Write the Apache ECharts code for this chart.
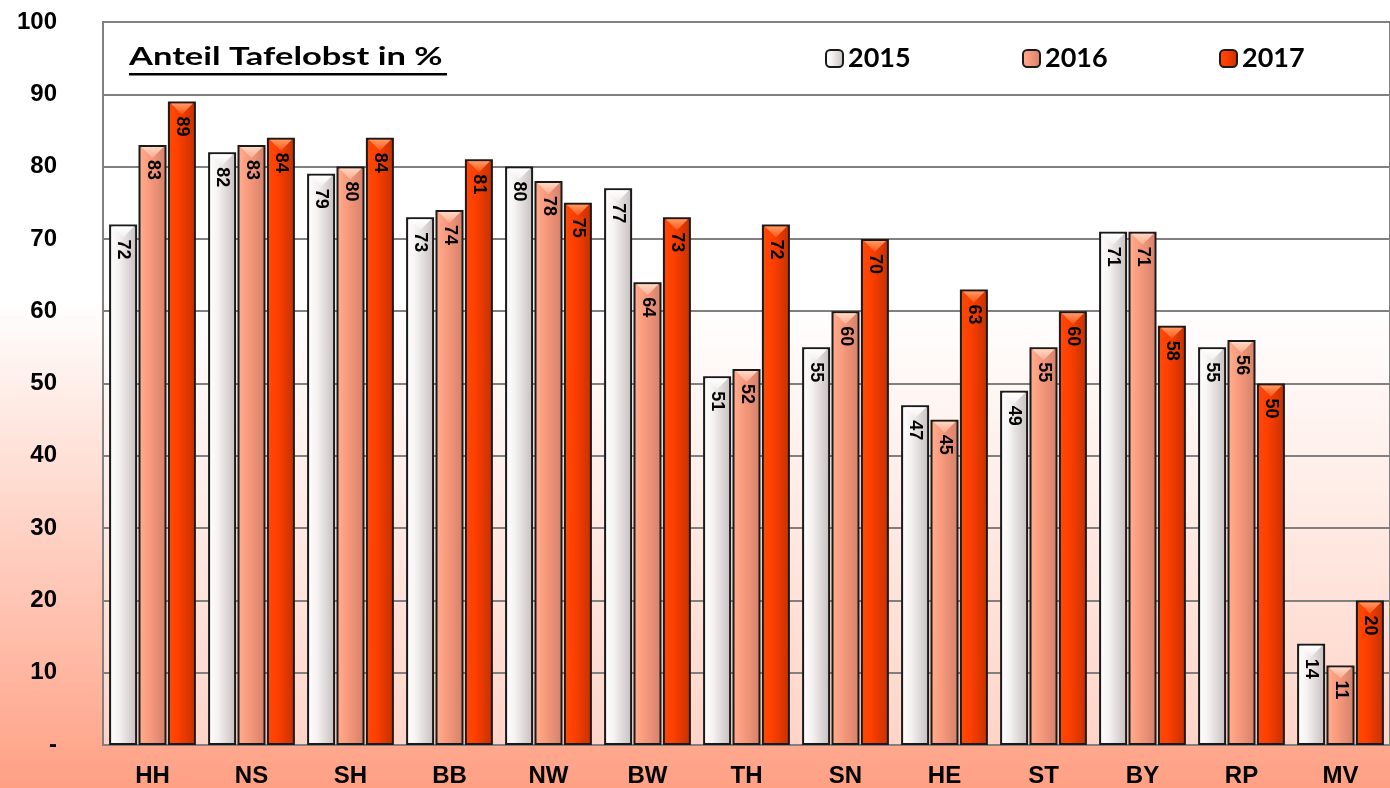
<!DOCTYPE html>
<html>
<head>
<meta charset="utf-8">
<style>
  html, body { margin: 0; padding: 0; }
  #chart { width: 1390px; height: 788px; }
</style>
<script src="https://cdn.jsdelivr.net/npm/echarts@6/dist/echarts.min.js"></script>
</head>
<body>
<div id="chart"></div>
<script>
var categories = ['HH', 'NS', 'SH', 'BB', 'NW', 'BW', 'TH', 'SN', 'HE', 'ST', 'BY', 'RP', 'MV'];
var values2015 = [72, 82, 79, 73, 80, 77, 51, 55, 47, 49, 71, 55, 14];
var values2016 = [83, 83, 80, 74, 78, 64, 52, 60, 45, 55, 71, 56, 11];
var values2017 = [89, 84, 84, 81, 75, 73, 72, 70, 63, 60, 58, 50, 20];
var yearNames = ['2015', '2016', '2017'];

function hGrad(a, b, c) {
    return new echarts.graphic.LinearGradient(0, 0, 1, 0, [
        { offset: 0, color: a },
        { offset: 0.35, color: b },
        { offset: 1, color: c }
    ]);
}
function vGrad(a, b) {
    return new echarts.graphic.LinearGradient(0, 0, 0, 1, [
        { offset: 0, color: a },
        { offset: 1, color: b }
    ]);
}

var barColors = [
    hGrad('#ffffff', '#f6f2f2', '#c6bebe'),
    hGrad('#ffb090', '#fa9c7e', '#d4806a'),
    hGrad('#ff4a08', '#ff4000', '#c43000')
];
// light bevel on top of each bar
var bevelColors = [
    vGrad('#ffffff', '#f2eeee'),
    vGrad('#ffd8c4', '#fbab8e'),
    vGrad('#ff9a66', '#ff5514')
];

var lbl = {
    show: true,
    position: 'insideTop',
    distance: 15,
    rotate: -90,
    align: 'left',
    verticalAlign: 'middle',
    color: '#000',
    fontFamily: 'Liberation Sans',
    fontWeight: 'bold',
    fontSize: 18
};

function makeSeries(name, data, i) {
    return {
        name: name,
        type: 'bar',
        data: data,
        barWidth: 28,
        barGap: '5%',
        z: 2,
        itemStyle: {
            color: barColors[i],
            borderColor: '#1a1a1a',
            borderWidth: 2
        },
        label: lbl
    };
}

function makeBevel(data, i) {
    return {
        name: 'bevel' + i,
        type: 'pictorialBar',
        data: data,
        barWidth: 28,
        barGap: '5%',
        symbol: 'path://M0,0 L10,0 L5,5 Z',
        symbolSize: [22, 11],
        symbolPosition: 'end',
        symbolOffset: [0, 2],
        z: 3,
        silent: true,
        itemStyle: { color: bevelColors[i] }
    };
}

var chart = echarts.init(document.getElementById('chart'));
var option = {
    animation: false,
    backgroundColor: new echarts.graphic.LinearGradient(0, 0, 0, 1, [
        { offset: 0, color: '#ffffff' },
        { offset: 0.38, color: '#ffffff' },
        { offset: 1, color: '#ffa084' }
    ]),
    grid: {
        left: 103,
        right: -17,
        top: 22,
        bottom: 43,
        show: true,
        backgroundColor: 'rgba(255,255,255,0.5)',
        borderColor: '#808080',
        borderWidth: 2
    },
    legend: [0, 1, 2].map(function (i) {
        return {
            data: [yearNames[i]],
            left: 820 + i * 197,
            top: 40,
            itemWidth: 17,
            itemHeight: 17,
            itemGap: 8,
            textStyle: { fontFamily: 'Lato', fontWeight: 'bold', fontSize: 27, color: '#000' }
        };
    }),
    graphic: [
        {
            type: 'text',
            x: 129,
            y: 44,
            scaleX: 1.38,
            style: { text: 'Anteil Tafelobst in %', fontFamily: 'Lato', fontWeight: 'bold', fontSize: 25, fill: '#000' }
        },
        {
            type: 'rect',
            shape: { x: 129, y: 73, width: 318, height: 2.5 },
            style: { fill: '#000' }
        }
    ],
    xAxis: {
        type: 'category',
        data: categories,
        axisLine: { lineStyle: { color: '#808080', width: 2 } },
        axisTick: { show: false },
        axisLabel: {
            margin: 19,
            color: '#000',
            fontFamily: 'Liberation Sans',
            fontWeight: 'bold',
            fontSize: 24
        }
    },
    yAxis: {
        type: 'value',
        min: 0,
        max: 100,
        interval: 10,
        axisLine: { show: true, lineStyle: { color: '#808080', width: 2 } },
        axisTick: { show: true, inside: true, length: 7, lineStyle: { color: '#808080', width: 2 } },
        splitLine: { lineStyle: { color: '#808080', width: 2 } },
        axisLabel: {
            margin: 46,
            color: '#000',
            fontFamily: 'Liberation Sans',
            fontWeight: 'bold',
            fontSize: 24,
            formatter: function (v) { return v === 0 ? '-' : v; }
        }
    },
    series: [
        makeSeries(yearNames[0], values2015, 0),
        makeSeries(yearNames[1], values2016, 1),
        makeSeries(yearNames[2], values2017, 2),
        makeBevel(values2015, 0),
        makeBevel(values2016, 1),
        makeBevel(values2017, 2)
    ]
};
chart.setOption(option);
</script>
</body>
</html>
